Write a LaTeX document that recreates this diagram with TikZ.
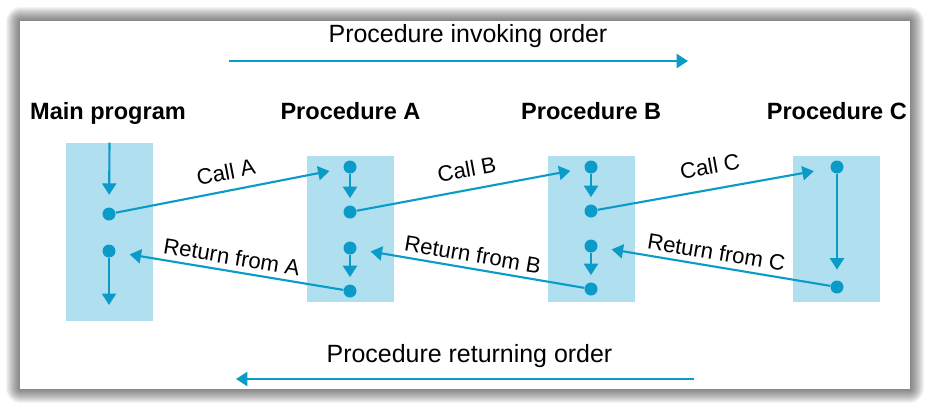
\documentclass[tikz,border=0pt]{standalone}
\usepackage{fontspec}
\setmainfont{Liberation Sans}
\usepackage{xcolor}
\usetikzlibrary{arrows.meta}
\usetikzlibrary{positioning}
\definecolor{procBlue}{HTML}{B0E0F0}
\definecolor{flowBlue}{HTML}{0B9BC8}
\tikzset{>={Triangle[length=6.5pt, width=8pt]}}
\tikzset{proc-box/.style={fill=procBlue, inner sep=0, minimum width=1.74cm, minimum height=2.92cm}}
\tikzset{call-dot/.style={circle, fill=flowBlue, inner sep=0, minimum size=7.4pt}}
\tikzset{flow-line/.style={->, draw=flowBlue, line width=1.2pt}}
\tikzset{call-line/.style={flow-line, shorten >=8pt}}
\tikzset{order-line/.style={->, draw=flowBlue, line width=1.4pt}}
\tikzset{proc-title/.style={font=\fontsize{13.4}{16}\selectfont\bfseries, anchor=base, inner sep=0}}
\tikzset{order-text/.style={font=\fontsize{14.2}{17}\selectfont, anchor=base, inner sep=0}}
\tikzset{arrow-label/.style={font=\fontsize{12.6}{15}\selectfont, sloped, inner sep=0}}

\begin{document}
\begin{tikzpicture}[x=0.02cm, y=-0.02cm]
    \useasboundingbox (0,0) rectangle (931,410);

    % panel with soft shadow
    \foreach \d in {14,13,...,1} {
        \pgfmathsetmacro{\r}{\d*0.6}
        \fill[black, opacity=0.045, rounded corners=\r pt] (20-\d,21-\d) rectangle (910+\d,389+\d);
    }
    \fill[white] (20,21) rectangle (910,389);

    % procedures
    \node[proc-box, minimum height=3.56cm] (mainbox) at (109.5,232) {};
    \node[proc-box] (abox) at (350.5,229) {};
    \node[proc-box, right=3.06cm of abox] (bbox) {};
    \node[proc-box, right=3.16cm of bbox] (cbox) {};

    \node[proc-title] (maintitle) at (108,119) {Main program};
    \node[proc-title] (atitle) at (abox |- maintitle.base) {Procedure A};
    \node[proc-title] (btitle) at (bbox |- maintitle.base) {Procedure B};
    \node[proc-title] (ctitle) at (cbox |- maintitle.base) {Procedure C};

    % call points
    \node[call-dot] (m1) at (109,214) {};
    \node[call-dot] (m2) at (109,251) {};
    \coordinate (mend) at (109,305);
    \node[call-dot] (a1) at (350,167) {};
    \node[call-dot] (a2) at (350,212) {};
    \node[call-dot] (a3) at (350,248) {};
    \node[call-dot] (a4) at (350,291) {};
    \node[call-dot] (b1) at (591,167) {};
    \node[call-dot] (b2) at (591,211) {};
    \node[call-dot] (b3) at (591,246) {};
    \node[call-dot] (b4) at (591,289) {};
    \node[call-dot] (c1) at (837,167) {};
    \node[call-dot] (c2) at (837,287) {};

    % flow inside each procedure
    \draw[flow-line, shorten >=7pt] (mainbox.north) -- (m1);
    \draw[flow-line] (m2) -- (mend);
    \draw[flow-line, shorten >=4pt] (a1) -- (a2);
    \draw[flow-line, shorten >=4pt] (a3) -- (a4);
    \draw[flow-line, shorten >=4pt] (b1) -- (b2);
    \draw[flow-line, shorten >=4pt] (b3) -- (b4);
    \draw[flow-line, shorten >=6pt] (c1) -- (c2);

    % calls and returns
    \draw[call-line] (m1) -- node[arrow-label, above=5.5pt] {Call A} (a1);
    \draw[call-line] (a2) -- node[arrow-label, above=6.5pt] {Call B} (b1);
    \draw[call-line, shorten >=9.5pt] (b2) -- node[arrow-label, above=8pt] {Call C} (c1);
    \draw[call-line] (a4) -- node[arrow-label, above=3pt] {Return from A} (m2);
    \draw[call-line] (b4) -- node[arrow-label, above=3pt] {Return from B} (a3);
    \draw[call-line] (c2) -- node[arrow-label, above=3pt] {Return from C} (b3);

    % order arrows
    \node[order-text] (invoking) at (468,42) {Procedure invoking order};
    \coordinate (invoking-start) at (229,61);
    \coordinate (invoking-end) at (688,61);
    \draw[order-line] (invoking-start) -- (invoking-end);

    \node[order-text] (returning) at (469.5,362) {Procedure returning order};
    \coordinate (returning-start) at (694,379);
    \coordinate (returning-end) at (236,379);
    \draw[order-line] (returning-start) -- (returning-end);
\end{tikzpicture}
\end{document}
